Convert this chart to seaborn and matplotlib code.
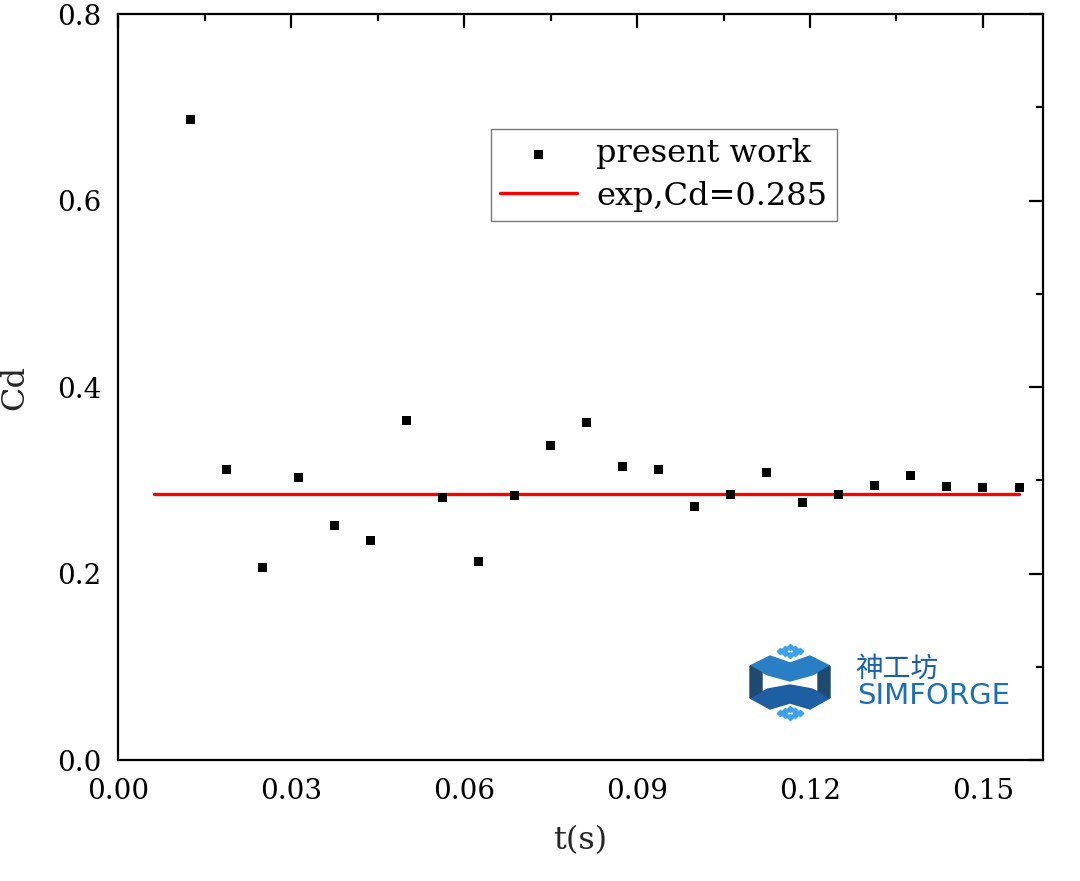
"""Drag coefficient Cd over time: simulation points vs. experimental value."""

import matplotlib

matplotlib.use("Agg")

import matplotlib.pyplot as plt
import pandas as pd
import seaborn as sns
from matplotlib.lines import Line2D
from matplotlib.patches import Polygon
from matplotlib.ticker import FormatStrFormatter, MultipleLocator


# Simulation samples (t in seconds, Cd)
t_values = [0.0125, 0.01875, 0.025, 0.03125, 0.0375, 0.04375, 0.05, 0.05625,
            0.0625, 0.06875, 0.075, 0.08125, 0.0875, 0.09375, 0.1, 0.10625,
            0.1125, 0.11875, 0.125, 0.13125, 0.1375, 0.14375, 0.15, 0.15625]
cd_values = [0.687, 0.312, 0.206, 0.303, 0.251, 0.235, 0.364, 0.281,
             0.213, 0.284, 0.337, 0.362, 0.315, 0.312, 0.272, 0.285,
             0.308, 0.276, 0.285, 0.294, 0.305, 0.293, 0.292, 0.292]

# Experimental reference
exp_cd = 0.285
exp_t_range = [0.00625, 0.15625]

FONT = ["DejaVu Serif", "Liberation Serif"]
W, H = 1080, 881


def px(points):
    """Pixel coords (origin top-left) -> figure fraction."""
    return [(x / W, 1 - y / H) for x, y in points]


def draw_logo(fig) -> None:
    """Rough watermark logo in the lower right corner."""
    shapes = [
        ([(750, 666), (770, 656), (790, 663), (810, 656), (830, 666),
          (812, 675), (790, 681), (768, 675)], "#2a7fc4"),
        ([(750, 698), (768, 689), (790, 685), (812, 689), (830, 698),
          (810, 709), (790, 703), (770, 709)], "#1e5fa3"),
        ([(750, 666), (762, 673), (762, 691), (750, 698)], "#1d4a6e"),
        ([(830, 666), (818, 673), (818, 691), (830, 698)], "#1d4a6e"),
    ]
    for pts, color in shapes:
        fig.patches.append(Polygon(px(pts), closed=True, color=color,
                                   transform=fig.transFigure, figure=fig))
    for cy in (651, 713):
        for dx, dy in [(-10, 0), (0, -4), (10, 0), (0, 4), (-5, -2), (5, -2), (-5, 2), (5, 2)]:
            (fx, fy), = px([(790 + dx, cy + dy)])
            fig.lines.append(Line2D([fx], [fy], marker="D", markersize=3.2,
                                    color="#3ea2ea", transform=fig.transFigure, figure=fig))

    fig.text(897 / W, 1 - 669 / H, "神工坊", fontsize=20, color="#1a5fa8",
             family=["Noto Sans CJK SC", "DejaVu Sans"], ha="center", va="center")
    fig.text(934 / W, 1 - 696 / H, "SIMFORGE", fontsize=21, color="#1a6fb8",
             family=["DejaVu Sans"], ha="center", va="center")


def main() -> None:
    sns.set_theme(style="white")
    plt.rcParams["font.family"] = FONT

    df_sim = pd.DataFrame({"t": t_values, "Cd": cd_values})
    df_exp = pd.DataFrame({"t": exp_t_range, "Cd": [exp_cd] * len(exp_t_range)})

    fig = plt.figure(figsize=(10.8, 8.81), dpi=100)
    ax = fig.add_axes([0.1093, 0.1373, 0.8564, 0.8468])

    sns.scatterplot(data=df_sim, x="t", y="Cd", ax=ax, marker="s", s=42,
                    color="black", edgecolor="none", label="present work", zorder=3)
    sns.lineplot(data=df_exp, x="t", y="Cd", ax=ax, color="#ff0000", lw=2.4,
                 label="exp,Cd=0.285", zorder=2)

    ax.set_xlim(0, 0.1604)
    ax.set_ylim(0, 0.8)
    ax.xaxis.set_major_locator(MultipleLocator(0.03))
    ax.xaxis.set_minor_locator(MultipleLocator(0.015))
    ax.yaxis.set_major_locator(MultipleLocator(0.2))
    ax.yaxis.set_minor_locator(MultipleLocator(0.1))
    ax.xaxis.set_major_formatter(FormatStrFormatter("%.2f"))
    ax.yaxis.set_major_formatter(FormatStrFormatter("%.1f"))

    ax.tick_params(which="both", direction="in", top=True, right=True,
                   labelsize=20, colors="black", width=1.6)
    ax.tick_params(which="major", length=10)
    ax.tick_params(axis="x", which="major", pad=13)
    ax.tick_params(axis="y", which="major", pad=12)
    ax.tick_params(which="minor", length=5)
    for spine in ax.spines.values():
        spine.set_linewidth(1.6)
        spine.set_color("black")

    ax.set_xlabel("t(s)", fontsize=23, labelpad=14)
    ax.set_ylabel("Cd", fontsize=23)
    ax.yaxis.set_label_coords(-0.095, 0.5)

    leg = ax.legend(loc="upper left", bbox_to_anchor=(0.403, 0.846), fontsize=23,
                    frameon=True, fancybox=False, handlelength=2.4,
                    borderpad=0.3, labelspacing=0.35, handletextpad=0.6,
                    borderaxespad=0)
    leg.get_frame().set_edgecolor("#555555")
    leg.get_frame().set_linewidth(1.0)
    for text in leg.get_texts():
        text.set_color("black")

    draw_logo(fig)

    fig.savefig("out.png", dpi=100)
    plt.close(fig)


if __name__ == "__main__":
    main()
